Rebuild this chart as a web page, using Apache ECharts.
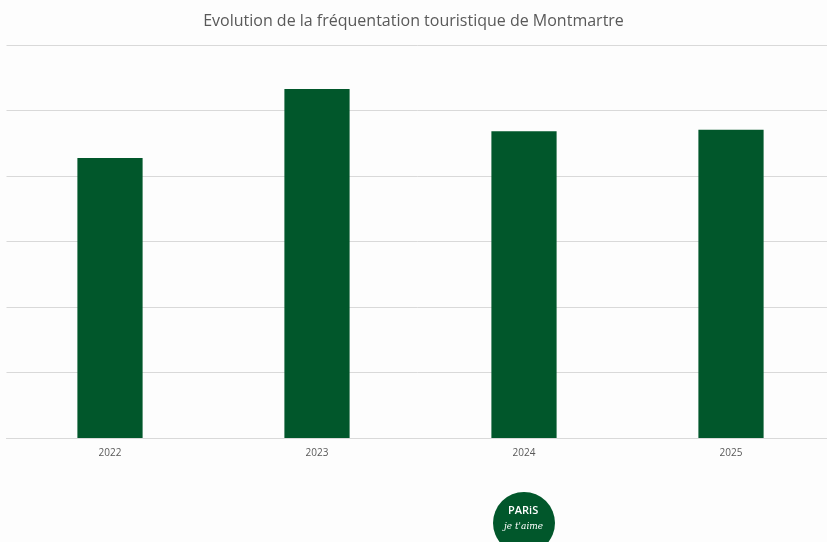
<!DOCTYPE html>
<html>
<head>
<meta charset="utf-8">
<script src="https://cdn.jsdelivr.net/npm/echarts@6/dist/echarts.min.js"></script>
<style>
  html, body { margin: 0; padding: 0; background: #fdfdfd; }
  #chart { width: 827px; height: 542px; }
</style>
</head>
<body>
<div id="chart"></div>
<script>
const years = ['2022', '2023', '2024', '2025'];
const visitors = [8.55, 10.66, 9.37, 9.41];
const yMax = 12;
const yStep = 2;

const chart = echarts.init(document.getElementById('chart'));

const option = {
  backgroundColor: '#fdfdfd',
  animation: false,
  title: {
    text: 'Evolution de la fréquentation touristique de Montmartre',
    left: 'center',
    top: 8,
    textStyle: {
      fontFamily: 'Open Sans',
      fontSize: 16,
      fontWeight: 'normal',
      color: '#595959'
    }
  },
  grid: {
    left: 6.5,
    width: 828,
    top: 45,
    bottom: 104,
    outerBoundsMode: 'none'
  },
  xAxis: {
    type: 'category',
    data: years,
    axisTick: { show: false },
    axisLine: { lineStyle: { color: '#d9d9d9', width: 1 } },
    axisLabel: {
      margin: 10,
      fontFamily: 'Open Sans',
      fontSize: 10,
      color: '#595959'
    }
  },
  yAxis: {
    type: 'value',
    min: 0,
    max: yMax,
    interval: yStep,
    axisLabel: { show: false },
    axisLine: { show: false },
    axisTick: { show: false },
    splitLine: { lineStyle: { color: '#d9d9d9', width: 1 } }
  },
  series: [
    {
      name: 'Fréquentation',
      type: 'bar',
      barWidth: '31.5%',
      data: visitors,
      itemStyle: { color: '#01572b' }
    }
  ],
  graphic: [
    // logo Paris je t'aime en bas
    {
      type: 'circle',
      shape: { cx: 524, cy: 523, r: 31 },
      style: { fill: '#01572b' }
    },
    {
      type: 'text',
      left: 508,
      top: 505,
      style: {
        text: 'PARiS',
        fill: '#ffffff',
        font: '600 11px "Open Sans"'
      }
    },
    {
      type: 'text',
      left: 504,
      top: 522,
      style: {
        text: "je t'aime",
        fill: '#ffffff',
        font: 'italic 9px "DejaVu Serif"'
      }
    }
  ]
};

chart.setOption(option);
</script>
</body>
</html>
